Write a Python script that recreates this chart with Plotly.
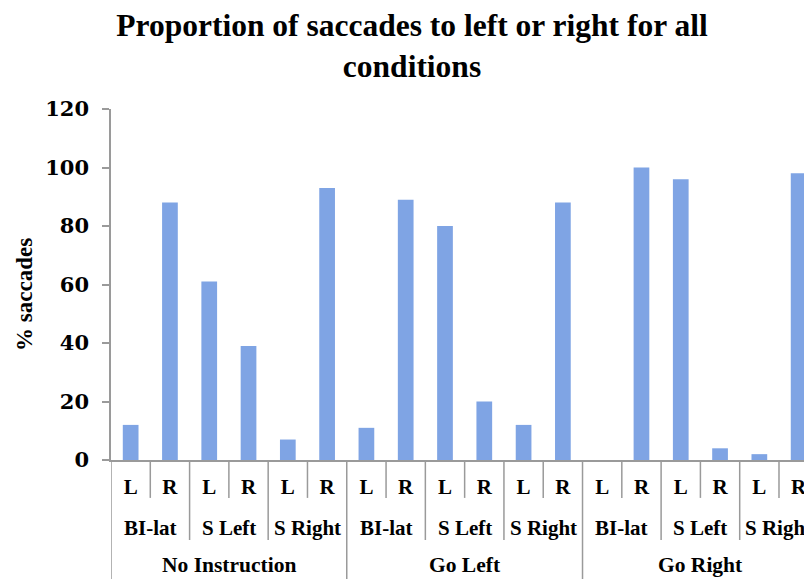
import plotly.graph_objects as go

# ---- data ----
instructions = ["No Instruction", "Go Left", "Go Right"]
conditions = ["BI-lat", "S Left", "S Right"]
sides = ["L", "R"]
no_instruction = [12, 88, 61, 39, 7, 93]
go_left = [11, 89, 80, 20, 12, 88]
go_right = [0, 100, 96, 4, 2, 98]
y_ticks = [0, 20, 40, 60, 80, 100, 120]

values = no_instruction + go_left + go_right
n_side = len(sides)
n_cond = len(conditions)
per_instr = n_side * n_cond
x_idx = list(range(len(values)))
tick_text = [sides[i % n_side] for i in x_idx]

BAR_COLOR = "#7fa4e4"
LINE_COLOR = "#9a9a9a"
SERIF = "Liberation Serif"

# page body has an 8px margin; size the figure so it fills the window
OFF = 8
W, H = 812 - OFF, 579 - OFF

fig = go.Figure()
fig.add_trace(go.Bar(
    x=x_idx, y=values, width=0.4,
    marker=dict(color=BAR_COLOR, line=dict(width=0)),
    showlegend=False, hoverinfo="y",
))

# separators and hierarchical labels
shapes = []
annotations = []
y_short, y_mid, y_long = -0.108, -0.228, -0.38
for i in x_idx:
    left = i - 0.5
    if i % per_instr == 0:
        y_end = y_long
    elif i % n_side == 0:
        y_end = y_mid
    else:
        y_end = y_short
    shapes.append(dict(type="line", xref="x", yref="paper", x0=left, x1=left,
                       y0=0, y1=y_end, line=dict(color=LINE_COLOR, width=1.5)))

for gi, instr in enumerate(instructions):
    base = gi * per_instr
    annotations.append(dict(text="<b>" + instr + "</b>", xref="x", yref="paper",
                            x=base + (per_instr - 1) / 2, y=-0.300,
                            showarrow=False, xanchor="center", yanchor="middle",
                            font=dict(family=SERIF, size=21.5, color="black")))
    for ci, cond in enumerate(conditions):
        cbase = base + ci * n_side
        annotations.append(dict(text="<b>" + cond + "</b>", xref="x", yref="paper",
                                x=cbase + (n_side - 1) / 2, y=-0.194,
                                showarrow=False, xanchor="center", yanchor="middle",
                                font=dict(family=SERIF, size=21, color="black")))

# y-axis title as an annotation so it can sit slightly below centre like the reference
annotations.append(dict(text="<b>% saccades</b>", xref="paper", yref="paper",
                        x=-0.1227, y=0.473, textangle=-90, showarrow=False,
                        xanchor="center", yanchor="middle",
                        font=dict(family=SERIF, size=23, color="black")))

fig.update_layout(
    width=W, height=H,
    margin=dict(l=111 - OFF, r=0, t=109 - OFF, b=H - (460 - OFF), autoexpand=False),
    paper_bgcolor="white", plot_bgcolor="white",
    title=dict(text="<b>Proportion of saccades to left or right for all<br>conditions</b>",
               x=0.5025, xanchor="center", y=1 - 28 / H, yanchor="top",
               font=dict(family=SERIF, size=31.5, color="black")),
    shapes=shapes,
    annotations=annotations,
    xaxis=dict(
        range=[-0.5, 17.34],
        tickvals=x_idx, ticktext=["<b>" + t + "</b>" for t in tick_text],
        tickfont=dict(family=SERIF, size=21, color="black"),
        ticks="outside", ticklen=7, tickcolor="rgba(0,0,0,0)",
        showline=True, linecolor=LINE_COLOR, linewidth=1.5,
        showgrid=False, zeroline=False, fixedrange=True,
    ),
    yaxis=dict(
        range=[0, 120], tickvals=y_ticks,
        ticktext=["<b>%d</b>" % v for v in y_ticks],
        tickfont=dict(family="DejaVu Serif", size=21, color="black"),
        ticks="outside", ticklen=7, tickcolor=LINE_COLOR, tickwidth=1.5,
        ticklabelstandoff=9,
        showline=True, linecolor=LINE_COLOR, linewidth=1.5,
        showgrid=False, zeroline=False,
    ),
)

fig.write_html("out.html")
